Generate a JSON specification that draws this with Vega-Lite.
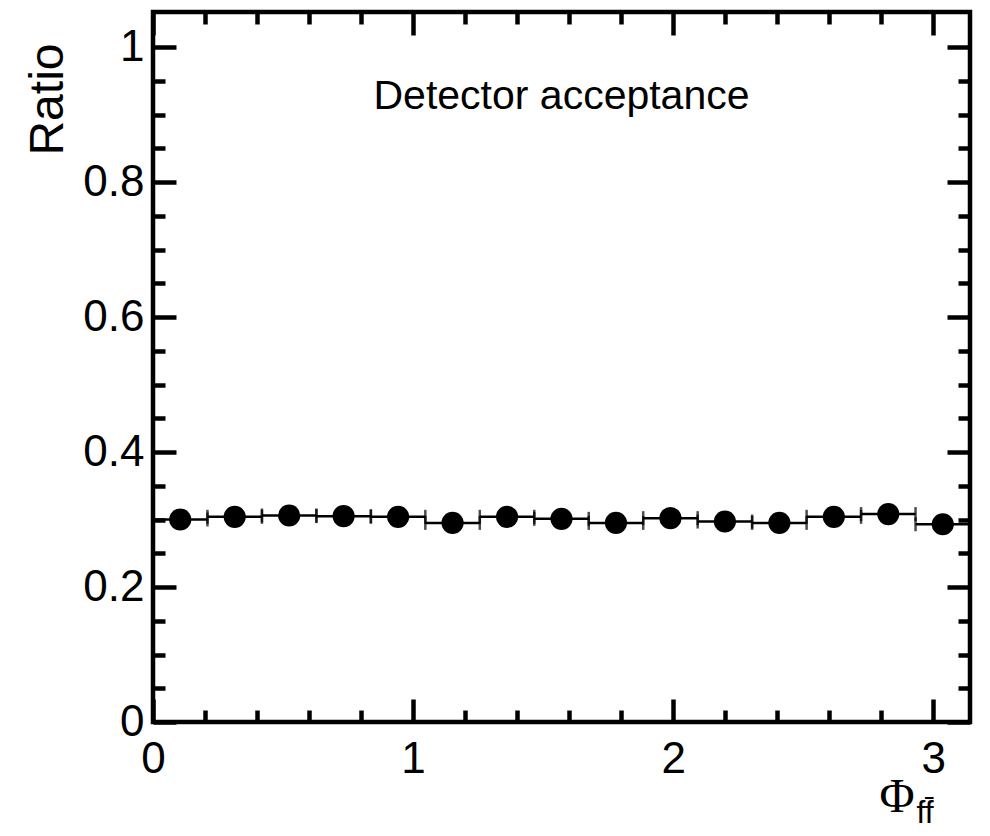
{
  "$schema": "https://vega.github.io/schema/vega-lite/v6.json",
  "width": 817,
  "height": 710,
  "autosize": {"type": "none"},
  "padding": {"left": 153, "top": 12, "right": 20, "bottom": 114},
  "background": "white",
  "config": {
    "view": {"stroke": "black", "strokeWidth": 4.5},
    "axis": {
      "grid": false,
      "domain": false,
      "tickColor": "black",
      "tickWidth": 4.5,
      "labelFont": "Liberation Sans",
      "labelFontSize": 44,
      "labelColor": "black",
      "labelFlush": false,
      "labelOverlap": false,
      "titleFont": "Liberation Sans",
      "titleFontSize": 48,
      "titleColor": "black",
      "titleFontWeight": "normal"
    }
  },
  "data": {
    "values": [
      {"x": 0.1047, "lo": 0.0, "hi": 0.2094, "val": 0.300},
      {"x": 0.3142, "lo": 0.2094, "hi": 0.4189, "val": 0.304},
      {"x": 0.5236, "lo": 0.4189, "hi": 0.6283, "val": 0.306},
      {"x": 0.7330, "lo": 0.6283, "hi": 0.8378, "val": 0.305},
      {"x": 0.9425, "lo": 0.8378, "hi": 1.0472, "val": 0.304},
      {"x": 1.1519, "lo": 1.0472, "hi": 1.2566, "val": 0.295},
      {"x": 1.3614, "lo": 1.2566, "hi": 1.4661, "val": 0.304},
      {"x": 1.5708, "lo": 1.4661, "hi": 1.6755, "val": 0.301},
      {"x": 1.7802, "lo": 1.6755, "hi": 1.8850, "val": 0.295},
      {"x": 1.9897, "lo": 1.8850, "hi": 2.0944, "val": 0.302},
      {"x": 2.1991, "lo": 2.0944, "hi": 2.3038, "val": 0.297},
      {"x": 2.4086, "lo": 2.3038, "hi": 2.5133, "val": 0.295},
      {"x": 2.6180, "lo": 2.5133, "hi": 2.7227, "val": 0.304},
      {"x": 2.8274, "lo": 2.7227, "hi": 2.9322, "val": 0.308},
      {"x": 3.0369, "lo": 2.9322, "hi": 3.1416, "val": 0.293}
    ]
  },
  "resolve": {"axis": {"x": "independent", "y": "independent"}},
  "layer": [
    {
      "mark": {"type": "rule", "color": "black", "strokeWidth": 2.5},
      "encoding": {
        "x": {
          "field": "lo", "type": "quantitative",
          "scale": {"domain": [0, 3.1416], "nice": false, "zero": false},
          "axis": {"orient": "bottom", "values": [0, 1, 2, 3], "tickSize": -23, "labelPadding": 38, "title": null}
        },
        "x2": {"field": "hi"},
        "y": {
          "field": "val", "type": "quantitative",
          "scale": {"domain": [0, 1.0519], "nice": false, "zero": false},
          "axis": {
            "orient": "left", "values": [0, 0.2, 0.4, 0.6, 0.8, 1], "format": "~g",
            "tickSize": -23, "labelPadding": 32,
            "title": "Ratio", "titleAngle": -90, "titleAlign": "right", "titleBaseline": "alphabetic",
            "titleX": -91, "titleY": 31
          }
        }
      }
    },
    {
      "mark": {"type": "tick", "orient": "vertical", "color": "black", "size": 14, "thickness": 2.5},
      "encoding": {
        "x": {
          "field": "lo", "type": "quantitative",
          "scale": {"domain": [0, 3.1416], "nice": false, "zero": false},
          "axis": {"orient": "top", "values": [0, 1, 2, 3], "tickSize": -23, "labels": false, "title": null}
        },
        "y": {
          "field": "val", "type": "quantitative",
          "scale": {"domain": [0, 1.0519], "nice": false, "zero": false},
          "axis": {"orient": "right", "values": [0, 0.2, 0.4, 0.6, 0.8, 1], "tickSize": -23, "labels": false, "title": null}
        }
      }
    },
    {
      "mark": {"type": "tick", "orient": "vertical", "color": "black", "size": 14, "thickness": 2.5},
      "encoding": {
        "x": {
          "field": "hi", "type": "quantitative",
          "scale": {"domain": [0, 3.1416], "nice": false, "zero": false},
          "axis": {"orient": "bottom", "values": [0.2, 0.4, 0.6, 0.8, 1.2, 1.4, 1.6, 1.8, 2.2, 2.4, 2.6, 2.8], "tickSize": -12, "labels": false, "title": null}
        },
        "y": {
          "field": "val", "type": "quantitative",
          "scale": {"domain": [0, 1.0519], "nice": false, "zero": false},
          "axis": {"orient": "left", "values": [0.05, 0.1, 0.15, 0.25, 0.3, 0.35, 0.45, 0.5, 0.55, 0.65, 0.7, 0.75, 0.85, 0.9, 0.95], "tickSize": -12, "labels": false, "title": null}
        }
      }
    },
    {
      "mark": {"type": "point", "shape": "circle", "filled": true, "color": "black", "opacity": 1, "size": 490},
      "encoding": {
        "x": {
          "field": "x", "type": "quantitative",
          "scale": {"domain": [0, 3.1416], "nice": false, "zero": false},
          "axis": {"orient": "top", "values": [0.2, 0.4, 0.6, 0.8, 1.2, 1.4, 1.6, 1.8, 2.2, 2.4, 2.6, 2.8], "tickSize": -12, "labels": false, "title": null}
        },
        "y": {
          "field": "val", "type": "quantitative",
          "scale": {"domain": [0, 1.0519], "nice": false, "zero": false},
          "axis": {"orient": "right", "values": [0.05, 0.1, 0.15, 0.25, 0.3, 0.35, 0.45, 0.5, 0.55, 0.65, 0.7, 0.75, 0.85, 0.9, 0.95], "tickSize": -12, "labels": false, "title": null}
        }
      }
    },
    {
      "data": {"values": [{"label": "Detector acceptance"}]},
      "mark": {"type": "text", "font": "Liberation Sans", "fontSize": 41, "align": "center", "baseline": "alphabetic", "color": "black"},
      "encoding": {
        "x": {"datum": 1.5708, "type": "quantitative", "axis": null},
        "y": {"datum": 0.908, "type": "quantitative", "axis": null},
        "text": {"field": "label"}
      }
    },
    {
      "data": {"values": [{"label": "Φ"}]},
      "mark": {"type": "text", "font": "Liberation Serif", "fontSize": 48, "align": "center", "baseline": "alphabetic", "color": "black"},
      "encoding": {
        "x": {"datum": 2.861, "type": "quantitative", "axis": null},
        "y": {"datum": -0.133, "type": "quantitative", "axis": null},
        "text": {"field": "label"}
      }
    },
    {
      "data": {"values": [{"label": "ff̄"}]},
      "mark": {"type": "text", "font": "Liberation Sans", "fontSize": 32, "align": "center", "baseline": "alphabetic", "color": "black"},
      "encoding": {
        "x": {"datum": 2.969, "type": "quantitative", "axis": null},
        "y": {"datum": -0.149, "type": "quantitative", "axis": null},
        "text": {"field": "label"}
      }
    }
  ]
}
